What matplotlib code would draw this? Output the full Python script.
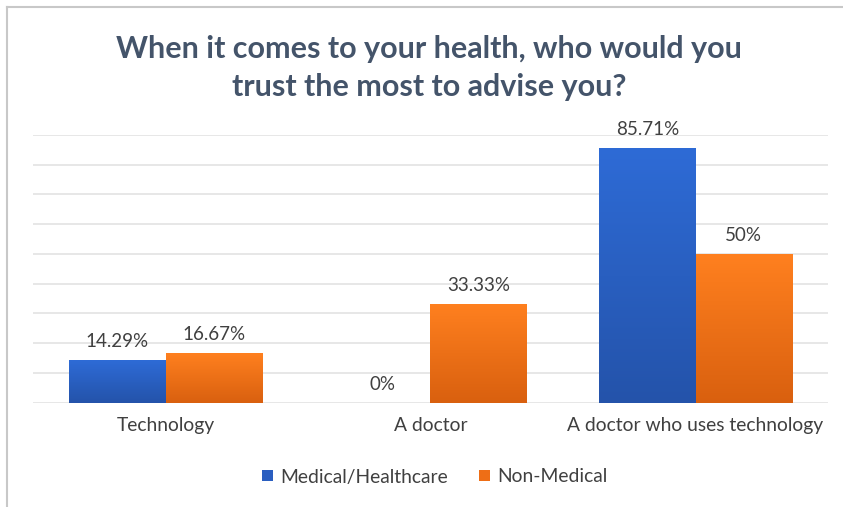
import numpy as np
import matplotlib
matplotlib.use("Agg")
import matplotlib.pyplot as plt
from matplotlib.colors import LinearSegmentedColormap
from matplotlib.lines import Line2D
from matplotlib.patches import Patch

categories = ["Technology", "A doctor", "A doctor who uses technology"]
series_names = ["Medical/Healthcare", "Non-Medical"]
medical = [14.29, 0, 85.71]
non_medical = [16.67, 33.33, 50]
labels_medical = ["14.29%", "0%", "85.71%"]
labels_non_medical = ["16.67%", "33.33%", "50%"]
title = "When it comes to your health, who would you\ntrust the most to advise you?"

plt.rcParams['font.family'] = ['Lato', 'DejaVu Sans']

fig = plt.figure(figsize=(8.43, 5.07), dpi=100)
ax = fig.add_axes([33/843, 104.3/507, 795/843, 267.7/507])

x = np.arange(len(categories))
w = 0.364
grads = {
    0: ("#2E6BD6", "#2453AA"),
    1: ("#FF801F", "#D9600F"),
}
txt_color = "#404040"

for si, (vals, labs) in enumerate([(medical, labels_medical), (non_medical, labels_non_medical)]):
    xs = x + (si - 0.5) * w
    bars = ax.bar(xs, vals, width=w, color="none", edgecolor="none", zorder=3)
    cmap = LinearSegmentedColormap.from_list("g%d" % si, [grads[si][1], grads[si][0]])
    for b, v, lab in zip(bars, vals, labs):
        if v > 0:
            grad = np.linspace(0, 1, 256).reshape(-1, 1)
            im = ax.imshow(grad, cmap=cmap, aspect="auto", origin="lower",
                           extent=[b.get_x(), b.get_x() + b.get_width(), 0, v], zorder=3)
            im.set_clip_path(b)
        ax.annotate(lab, (b.get_x() + b.get_width() / 2, v), xytext=(0, 7),
                    textcoords="offset points", ha="center", va="bottom",
                    fontsize=13.5, color=txt_color)

ax.set_xlim(-0.5, 2.5)
ax.set_ylim(0, 90)
ax.set_yticks(np.arange(0, 91, 10))
ax.yaxis.grid(True, color="#E3E3E3", linewidth=1.2, zorder=0)
ax.set_axisbelow(True)
ax.tick_params(axis="y", left=False, labelleft=False)
ax.set_xticks(x)
ax.set_xticklabels(categories, fontsize=13.9, color=txt_color)
ax.tick_params(axis="x", length=0, pad=10)
for s in ax.spines.values():
    s.set_visible(False)

fig.text(0.5 * (7 + 843) / 843 + 4/843, 1 - 68 / 507, title, ha="center", va="center",
         fontsize=22, fontweight="bold", color="#44546A", linespacing=1.42)

handles = [Patch(facecolor="#2A5EC0", edgecolor="none"), Patch(facecolor="#EE6E16", edgecolor="none")]
fig.legend(handles, series_names, loc="center", bbox_to_anchor=(435/843, 1 - 477/507),
           ncol=2, frameon=False, fontsize=13.9, handlelength=0.55, handleheight=0.55,
           handletextpad=0.4, columnspacing=1.6, labelcolor=txt_color)

fig.add_artist(Line2D([7/843, 7/843], [0, 1 - 7/507], transform=fig.transFigure,
                      color="#C8C8C8", linewidth=1.5))
fig.add_artist(Line2D([7/843, 1], [1 - 7/507, 1 - 7/507], transform=fig.transFigure,
                      color="#C8C8C8", linewidth=1.5))

fig.savefig("out.png", dpi=100)
